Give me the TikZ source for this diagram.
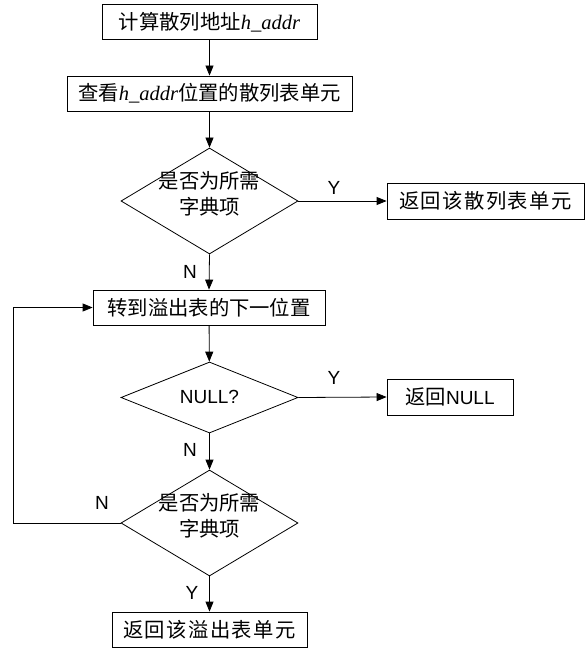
\documentclass[tikz,border=0pt]{standalone}
\usepackage{fontspec}
\setmainfont{Liberation Sans}
\newfontfamily\cjk[Scale=1.07]{Noto Sans CJK SC}
\newfontfamily\cjkwide[Scale=1.07,LetterSpace=7]{Noto Sans CJK SC}
\newfontfamily\tnr[Scale=1.08]{Liberation Serif}
\usetikzlibrary{shapes.geometric,arrows.meta}
\begin{document}
\begin{tikzpicture}[x=1pt,y=-1pt,
  every node/.style={font=\fontsize{19}{25}\selectfont},
  box/.style={draw,line width=0.8pt,inner sep=0pt,minimum height=35pt},
  dia/.style={draw,line width=0.8pt,diamond,inner sep=0pt,aspect=1.67},
  lbl/.style={inner sep=0pt},
  flow/.style={line width=0.8pt,-{Triangle[length=10pt,width=8pt]}}]
\useasboundingbox (0,0) rectangle (586,652);
\node[box,minimum width=215pt] (b1) at (209.5,22) {\cjk 计算散列地址{\tnr\itshape h\_addr}};
\node[box,minimum width=285pt] (b2) at (209.5,93.5) {\cjk 查看{\tnr\itshape h\_addr}位置的散列表单元};
\node[dia,minimum width=177pt,minimum height=106pt] (d1) at (209.5,201) {};
\node[lbl] (t1) at (209.5,196.5) {\cjk\begin{tabular}{@{}c@{}}是否为所需\\[1pt]字典项\end{tabular}};
\node[box,minimum width=197pt,minimum height=36pt] (b3) at (485.5,201) {\cjkwide 返回该散列表单元};
\node[box,minimum width=232pt] (b4) at (209,307.5) {\cjk 转到溢出表的下一位置};
\node[dia,minimum width=177pt,minimum height=71pt] (d2) at (209.5,397.5) {};
\node[lbl] (t2) at (209.5,397) {NULL?};
\node[box,minimum width=126pt,minimum height=36pt] (b5) at (450,397) {{\cjk 返回}NULL};
\node[dia,minimum width=177pt,minimum height=106pt] (d3) at (209.5,523) {};
\node[lbl] (t3) at (209.5,518.5) {\cjk\begin{tabular}{@{}c@{}}是否为所需\\[1pt]字典项\end{tabular}};
\node[box,minimum width=195pt] (b6) at (209.5,629.5) {\cjkwide 返回该溢出表单元};
\coordinate (c1) at (13,523);
\coordinate (c2) at (13,307.5);
\draw[flow] (b1) -- (b2);
\draw[flow] (b2) -- (d1);
\draw[flow] (d1.east) -- (b3.west);
\draw[flow] (d1.south) -- (b4.north);
\draw[flow] (b4) -- (d2);
\draw[flow] (d2.east) -- (b5.west);
\draw[flow] (d2.south) -- (d3.north);
\draw[flow] (d3.south) -- (b6.north);
\draw[flow] (d3.west) -- (c1) -- (c2) -- (b4.west);
\node[lbl] (y1) at (334,188) {Y};
\node[lbl] (n1) at (190,272) {N};
\node[lbl] (y2) at (334,378) {Y};
\node[lbl] (n2) at (190,450) {N};
\node[lbl] (n3) at (102,503) {N};
\node[lbl] (y3) at (192,593) {Y};
\end{tikzpicture}
\end{document}
